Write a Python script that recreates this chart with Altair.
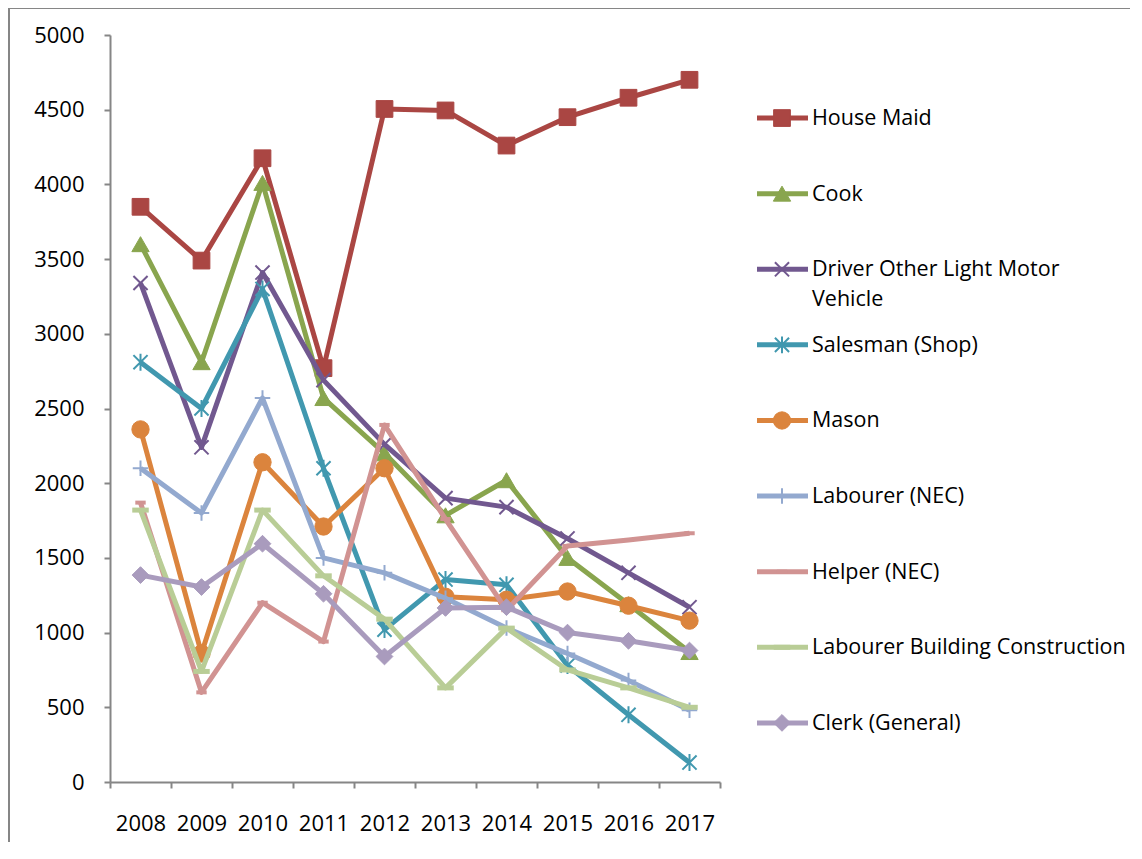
import altair as alt
import pandas as pd

# ---------------- data ----------------
YEARS = ["2008", "2009", "2010", "2011", "2012", "2013", "2014", "2015", "2016", "2017"]
SERIES = [
    "House Maid",
    "Cook",
    "Driver Other Light Motor Vehicle",
    "Salesman (Shop)",
    "Mason",
    "Labourer (NEC)",
    "Helper (NEC)",
    "Labourer Building Construction",
    "Clerk (General)",
]
LEGEND_LABELS = [
    "House Maid",
    "Cook",
    "Driver Other Light Motor\nVehicle",
    "Salesman (Shop)",
    "Mason",
    "Labourer (NEC)",
    "Helper (NEC)",
    "Labourer Building Construction",
    "Clerk (General)",
]
HOUSE_MAID = [3850, 3490, 4175, 2770, 4505, 4495, 4260, 4450, 4580, 4700]
COOK = [3600, 2810, 4010, 2570, 2200, 1785, 2020, 1500, 1190, 870]
DRIVER = [3340, 2240, 3410, 2690, 2260, 1900, 1840, 1630, 1400, 1170]
SALESMAN = [2810, 2500, 3300, 2100, 1020, 1355, 1320, 780, 450, 130]
MASON = [2360, 860, 2140, 1710, 2100, 1240, 1220, 1275, 1180, 1080]
LABOURER_NEC = [2100, 1800, 2570, 1500, 1400, 1230, 1030, 860, 680, 480]
HELPER_NEC = [1870, 600, 1200, 940, 2390, 1760, 1150, 1580, 1620, 1665]
LABOURER_BC = [1820, 740, 1820, 1380, 1090, 630, 1030, 750, 630, 500]
CLERK = [1385, 1305, 1595, 1260, 840, 1165, 1170, 1000, 945, 880]
VALUES = [HOUSE_MAID, COOK, DRIVER, SALESMAN, MASON, LABOURER_NEC, HELPER_NEC, LABOURER_BC, CLERK]
Y_TICKS = [0, 500, 1000, 1500, 2000, 2500, 3000, 3500, 4000, 4500, 5000]

# ---------------- styles ----------------
COLORS = ["#AA4643", "#89A54E", "#71588F", "#4198AF", "#DB843D",
          "#93A9CF", "#D19392", "#B9CD96", "#A99BBD"]
SHAPES = [
    "square",
    "triangle-up",
    "M-1,-1L1,1M-1,1L1,-1",
    "M-1,-1L1,1M-1,1L1,-1M0,-1.2L0,1.2",
    "circle",
    "M-1,0L1,0M0,-1L0,1",
    "M-0.6,0L0.6,0",
    "M-0.55,0L0.55,0",
    "diamond",
]
SIZES = [280, 300, 200, 200, 300, 240, 300, 900, 280]
MARKER_SW = [1, 1, 2, 2, 1, 2, 4, 5, 1]
FONT = "Open Sans"
AXIS_GREY = "#868686"
LINE_W = 5
W, H = 610, 747

rows = []
for name, vals in zip(SERIES, VALUES):
    for yr, v in zip(YEARS, vals):
        rows.append({"series": name, "year": yr, "value": v})
df = pd.DataFrame(rows)
leg_df = pd.DataFrame({"series": SERIES, "label": LEGEND_LABELS})
one = pd.DataFrame({"k": [0]})

XAXIS = alt.Axis(title=None, labelAngle=0, tickBand="extent", labelFont=FONT,
                 labelFontSize=22, labelColor="black", labelPadding=25, tickSize=6,
                 tickColor=AXIS_GREY, tickWidth=2, domainColor=AXIS_GREY,
                 domainWidth=2, grid=False)
YAXIS = alt.Axis(title=None, values=Y_TICKS, format="d", labelFont=FONT, labelFontSize=22,
                 labelColor="black", labelPadding=20, tickSize=6,
                 tickColor=AXIS_GREY, tickWidth=2, domainColor=AXIS_GREY,
                 domainWidth=2, grid=False)

x_enc = alt.X("year:O", bandPosition=0.5,
              scale=alt.Scale(type="band", domain=YEARS, paddingInner=0, paddingOuter=0),
              axis=XAXIS)
y_enc = alt.Y("value:Q", scale=alt.Scale(domain=[0, 5000], nice=False), axis=YAXIS)

main_layers = []
for i, name in enumerate(SERIES):
    base = alt.Chart(df).transform_filter(alt.datum.series == name)
    line = base.mark_line(color=COLORS[i], strokeWidth=LINE_W, strokeJoin="round").encode(
        x=x_enc, y=y_enc)
    pts = base.mark_point(shape=SHAPES[i], size=SIZES[i], fill=COLORS[i], stroke=COLORS[i],
                          strokeWidth=MARKER_SW[i], opacity=1, fillOpacity=1).encode(
        x=x_enc, y=y_enc)
    main_layers += [line, pts]
main = alt.layer(*main_layers)

yleg = alt.Y("series:N", sort=SERIES,
             scale=alt.Scale(type="band", domain=SERIES, paddingInner=0,
                             paddingOuter=0.44, align=0.68),
             axis=None)
col = alt.Color("series:N", scale=alt.Scale(domain=SERIES, range=COLORS), legend=None)
fil = alt.Fill("series:N", scale=alt.Scale(domain=SERIES, range=COLORS), legend=None)
stk = alt.Stroke("series:N", scale=alt.Scale(domain=SERIES, range=COLORS), legend=None)

leg_line = alt.Chart(leg_df).mark_rule(strokeWidth=LINE_W).encode(
    x=alt.value(647), x2=alt.value(698), y=yleg, color=col)
leg_pts = alt.Chart(leg_df).mark_point(opacity=1, fillOpacity=1).encode(
    x=alt.value(672), y=yleg, fill=fil, stroke=stk,
    shape=alt.Shape("series:N", scale=alt.Scale(domain=SERIES, range=SHAPES), legend=None),
    size=alt.Size("series:N", scale=alt.Scale(type="ordinal", domain=SERIES, range=SIZES), legend=None),
    strokeWidth=alt.StrokeWidth("series:N", scale=alt.Scale(type="ordinal", domain=SERIES, range=MARKER_SW), legend=None),
)
leg_text = alt.Chart(leg_df).mark_text(
    align="left", baseline="alphabetic", dy=7, font=FONT, fontSize=21.5,
    lineBreak="\n", lineHeight=30, color="black").encode(
    x=alt.value(702), y=yleg, text="label:N")

border_left = alt.Chart(one).mark_rule(color=AXIS_GREY, strokeWidth=2).encode(
    x=alt.value(-101), y=alt.value(-27), y2=alt.value(H + 70))
border_top = alt.Chart(one).mark_rule(color=AXIS_GREY, strokeWidth=2).encode(
    x=alt.value(-102), x2=alt.value(1040), y=alt.value(-27))

chart = alt.layer(main, leg_line, leg_pts, leg_text, border_left, border_top).resolve_scale(
    y="independent"
).properties(
    width=W, height=H,
    padding={"left": 102, "top": 27, "right": 410, "bottom": 60},
    autosize=alt.AutoSizeParams(type="none"),
    background="white",
).configure_view(stroke=None)

chart.save("out.html", embed_options={"renderer": "svg", "actions": False})
